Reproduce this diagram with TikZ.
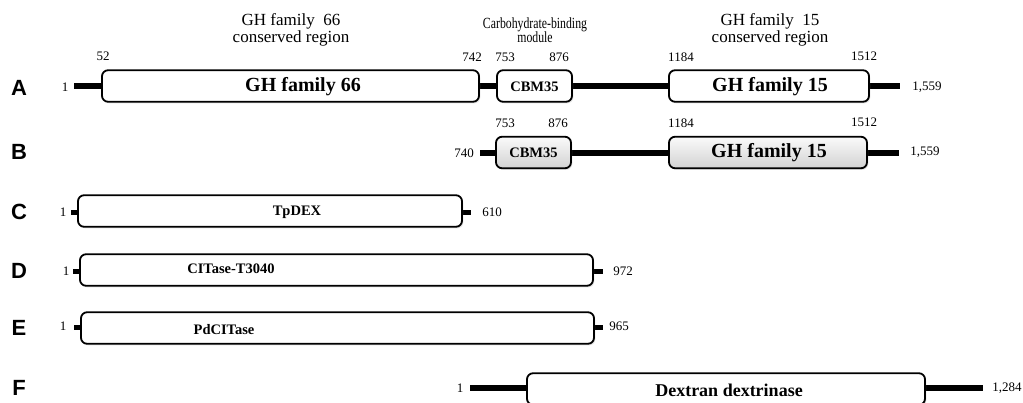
\documentclass[tikz,border=0pt]{standalone}
\usepackage{fontspec}
\setmainfont{Liberation Serif}
\newfontfamily\arialfont{Liberation Sans}
\usetikzlibrary{shadows,backgrounds}
\begin{document}
\begin{tikzpicture}[x=1pt,y=-1pt,
  dom/.style={draw=black, line width=1.8pt, rounded corners=6pt, fill=white, inner sep=0pt,
    minimum height=31.5pt,
    drop shadow={opacity=0.22, shadow xshift=1.3pt, shadow yshift=-1.6pt}},
  gdom/.style={dom, top color=gray!4, bottom color=gray!35},
  bar/.style={line width=6pt},
  stub/.style={line width=5pt},
  num/.style={font=\fontsize{13}{14}\selectfont, inner sep=0pt},
  letter/.style={font=\arialfont\bfseries\fontsize{22}{24}\selectfont, inner sep=0pt},
  bigtxt/.style={font=\bfseries\fontsize{20}{24}\selectfont, inner sep=0pt},
  smtxt/.style={font=\bfseries\fontsize{14.5}{17}\selectfont, inner sep=0pt},
  midtxt/.style={font=\bfseries\fontsize{14.5}{17}\selectfont, inner sep=0pt},
  head/.style={font=\fontsize{17}{16.5}\selectfont, align=center, inner sep=0pt}
]
\useasboundingbox (0,0) rectangle (1023,402);
\clip (0,0) rectangle (1023,402);

% row letters
\node[letter] (LA) at (19,88) {A};
\node[letter] (LB) at (19,152) {B};
\node[letter] (LC) at (19,212) {C};
\node[letter] (LD) at (19,271) {D};
\node[letter] (LE) at (19,328) {E};
\node[letter] (LF) at (19,388) {F};

% headings
\node[head] (h66) at (291,30) {GH family~ 66\\conserved region};
\node[head, font=\fontsize{15.5}{14.5}\selectfont] (hcbm) at (535,30)
  {\scalebox{0.76}[1]{Carbohydrate-binding}\\\scalebox{0.76}[1]{module}};
\node[head] (h15) at (770,30) {GH family~ 15\\conserved region};

% ---- Row A ----
\node[dom, minimum width=377pt] (a66) at (290.5,86) {};
\node[dom, minimum width=75pt] (acbm) at (534.5,86) {};
\node[dom, minimum width=200pt] (a15) at (769,86) {};
\coordinate (aL) at (74,86);
\coordinate (aR) at (900,86);
\begin{pgfonlayer}{background}
\draw[bar] (aL) -- (a66.west);
\draw[bar] (a66.east) -- (acbm.west);
\draw[bar] (acbm.east) -- (a15.west);
\draw[bar] (a15.east) -- (aR);
\end{pgfonlayer}
\node[bigtxt] (ta66) at (303,87) {GH family 66};
\node[smtxt] (tacbm) at (534.5,87) {CBM35};
\node[bigtxt] (ta15) at (770,87) {GH family 15};
\node[num] (na1) at (65,87) {1};
\node[num] (na52) at (103,56) {52};
\node[num] (na742) at (472,57) {742};
\node[num] (na753) at (505,57) {753};
\node[num] (na876) at (559,57) {876};
\node[num] (na1184) at (681,57) {1184};
\node[num] (na1512) at (864,56) {1512};
\node[num] (na1559) at (927,87) {1,559};

% ---- Row B ----
\node[gdom, minimum width=75pt] (bcbm) at (533.5,152.5) {};
\node[gdom, minimum width=198pt] (b15) at (768,152.5) {};
\coordinate (bL) at (480,152.5);
\coordinate (bR) at (899,152.5);
\begin{pgfonlayer}{background}
\draw[bar] (bL) -- (bcbm.west);
\draw[bar] (bcbm.east) -- (b15.west);
\draw[bar] (b15.east) -- (bR);
\end{pgfonlayer}
\node[smtxt] (tbcbm) at (533.5,153) {CBM35};
\node[bigtxt] (tb15) at (769,153) {GH family 15};
\node[num] (nb740) at (464,153) {740};
\node[num] (nb753) at (505,123) {753};
\node[num] (nb876) at (558,123) {876};
\node[num] (nb1184) at (681,123) {1184};
\node[num] (nb1512) at (864,122) {1512};
\node[num] (nb1559) at (925,152) {1,559};

% ---- Row C ----
\node[dom, minimum width=384pt] (cbox) at (270,211) {};
\coordinate (cL) at (71,212);
\coordinate (cR) at (471,212);
\begin{pgfonlayer}{background}
\draw[stub] (cL) -- (cL -| cbox.west);
\draw[stub] (cR -| cbox.east) -- (cR);
\end{pgfonlayer}
\node[smtxt] (tc) at (297,212) {TpDEX};
\node[num] (nc1) at (63,212) {1};
\node[num] (nc610) at (492,212) {610};

% ---- Row D ----
\node[dom, minimum width=513pt] (dbox) at (336.5,270) {};
\coordinate (dL) at (73,271);
\coordinate (dR) at (603,271);
\begin{pgfonlayer}{background}
\draw[stub] (dL) -- (dL -| dbox.west);
\draw[stub] (dR -| dbox.east) -- (dR);
\end{pgfonlayer}
\node[midtxt] (td) at (231,269) {CITase-T3040};
\node[num] (nd1) at (66,271) {1};
\node[num] (nd972) at (623,271) {972};

% ---- Row E ----
\node[dom, minimum width=513pt] (ebox) at (337.5,328) {};
\coordinate (eL) at (74,327);
\coordinate (eR) at (603,327);
\begin{pgfonlayer}{background}
\draw[stub] (eL) -- (eL -| ebox.west);
\draw[stub] (eR -| ebox.east) -- (eR);
\end{pgfonlayer}
\node[midtxt] (te) at (224,330) {PdCITase};
\node[num] (ne1) at (63,326) {1};
\node[num] (ne965) at (619,326) {965};

% ---- Row F ----
\node[dom, minimum width=398pt] (fbox) at (726,389) {};
\coordinate (fL) at (470,388);
\coordinate (fR) at (983,388);
\begin{pgfonlayer}{background}
\draw[bar] (fL) -- (fL -| fbox.west);
\draw[bar] (fR -| fbox.east) -- (fR);
\end{pgfonlayer}
\node[bigtxt, font=\bfseries\fontsize{18}{20}\selectfont] (tf) at (729,390) {Dextran dextrinase};
\node[num] (nf1) at (460,388) {1};
\node[num] (nf1284) at (1007,388) {1,284};
\end{tikzpicture}
\end{document}
